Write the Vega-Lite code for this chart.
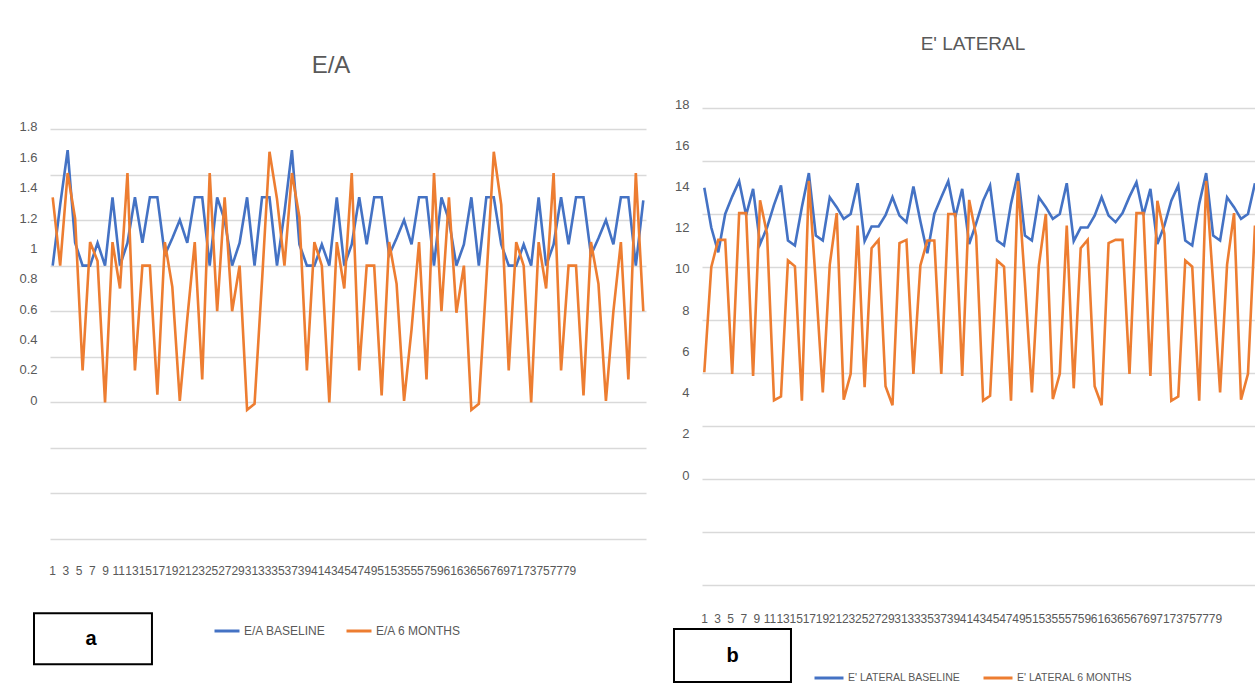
{
  "$schema": "https://vega.github.io/schema/vega-lite/v6.json",
  "background": "white",
  "padding": {"left": 18, "top": 35, "right": 0, "bottom": 0},
  "autosize": {"type": "pad"},
  "bounds": "flush",
  "spacing": 56,
  "config": {"view": {"stroke": null}, "font": "Liberation Sans"},
  "datasets": {
    "ea": [
      {"i":1,"b":0.9,"m":1.35},{"i":2,"b":1.3,"m":0.9},{"i":3,"b":1.66,"m":1.51},{"i":4,"b":1.05,"m":1.21},{"i":5,"b":0.9,"m":0.21},
      {"i":6,"b":0.9,"m":1.055},{"i":7,"b":1.05,"m":0.93},{"i":8,"b":0.9,"m":0.0},{"i":9,"b":1.35,"m":1.055},{"i":10,"b":0.9,"m":0.75},
      {"i":11,"b":1.05,"m":1.51},{"i":12,"b":1.35,"m":0.21},{"i":13,"b":1.05,"m":0.9},{"i":14,"b":1.35,"m":0.9},{"i":15,"b":1.35,"m":0.05},
      {"i":16,"b":0.97,"m":1.055},{"i":17,"b":1.08,"m":0.76},{"i":18,"b":1.2,"m":0.01},{"i":19,"b":1.05,"m":0.55},{"i":20,"b":1.35,"m":1.055},
      {"i":21,"b":1.35,"m":0.15},{"i":22,"b":0.9,"m":1.51},{"i":23,"b":1.35,"m":0.6},{"i":24,"b":1.2,"m":1.35},{"i":25,"b":0.9,"m":0.6},
      {"i":26,"b":1.05,"m":0.9},{"i":27,"b":1.35,"m":-0.05},{"i":28,"b":0.9,"m":-0.01},{"i":29,"b":1.35,"m":0.8},{"i":30,"b":1.35,"m":1.65},
      {"i":31,"b":0.9,"m":1.34},{"i":32,"b":1.25,"m":0.9},{"i":33,"b":1.66,"m":1.51},{"i":34,"b":1.04,"m":1.22},{"i":35,"b":0.9,"m":0.21},
      {"i":36,"b":0.9,"m":1.055},{"i":37,"b":1.04,"m":0.9},{"i":38,"b":0.9,"m":0.0},{"i":39,"b":1.35,"m":1.055},{"i":40,"b":0.9,"m":0.75},
      {"i":41,"b":1.04,"m":1.51},{"i":42,"b":1.35,"m":0.21},{"i":43,"b":1.04,"m":0.9},{"i":44,"b":1.35,"m":0.9},{"i":45,"b":1.35,"m":0.046},
      {"i":46,"b":0.97,"m":1.055},{"i":47,"b":1.08,"m":0.78},{"i":48,"b":1.2,"m":0.01},{"i":49,"b":1.04,"m":0.48},{"i":50,"b":1.35,"m":1.055},
      {"i":51,"b":1.35,"m":0.15},{"i":52,"b":0.9,"m":1.51},{"i":53,"b":1.35,"m":0.6},{"i":54,"b":1.2,"m":1.35},{"i":55,"b":0.9,"m":0.59},
      {"i":56,"b":1.04,"m":0.9},{"i":57,"b":1.35,"m":-0.05},{"i":58,"b":0.9,"m":-0.01},{"i":59,"b":1.35,"m":0.8},{"i":60,"b":1.35,"m":1.65},
      {"i":61,"b":1.04,"m":1.3},{"i":62,"b":0.9,"m":0.21},{"i":63,"b":0.9,"m":1.055},{"i":64,"b":1.04,"m":0.9},{"i":65,"b":0.9,"m":0.0},
      {"i":66,"b":1.35,"m":1.055},{"i":67,"b":0.9,"m":0.75},{"i":68,"b":1.04,"m":1.51},{"i":69,"b":1.35,"m":0.21},{"i":70,"b":1.04,"m":0.9},
      {"i":71,"b":1.35,"m":0.9},{"i":72,"b":1.35,"m":0.046},{"i":73,"b":0.97,"m":1.055},{"i":74,"b":1.08,"m":0.78},{"i":75,"b":1.2,"m":0.01},
      {"i":76,"b":1.04,"m":0.6},{"i":77,"b":1.35,"m":1.055},{"i":78,"b":1.35,"m":0.15},{"i":79,"b":0.9,"m":1.51},{"i":80,"b":1.33,"m":0.6}
    ],
    "lat": [
      {"i":1,"b":14.13,"m":5.18},{"i":2,"b":12.2,"m":10.28},{"i":3,"b":11.0,"m":11.6},{"i":4,"b":12.86,"m":11.6},{"i":5,"b":13.7,"m":5.1},
      {"i":6,"b":14.45,"m":12.9},{"i":7,"b":12.8,"m":12.9},{"i":8,"b":14.08,"m":5.0},{"i":9,"b":11.4,"m":13.52},{"i":10,"b":12.2,"m":11.9},
      {"i":11,"b":13.3,"m":3.82},{"i":12,"b":14.24,"m":4.0},{"i":13,"b":11.57,"m":10.6},{"i":14,"b":11.33,"m":10.32},{"i":15,"b":13.2,"m":3.8},
      {"i":16,"b":14.84,"m":14.46},{"i":17,"b":11.81,"m":9.5},{"i":18,"b":11.57,"m":4.2},{"i":19,"b":13.67,"m":10.4},{"i":20,"b":13.19,"m":12.9},
      {"i":21,"b":12.62,"m":3.85},{"i":22,"b":12.86,"m":5.1},{"i":23,"b":14.35,"m":12.3},{"i":24,"b":11.54,"m":4.45},{"i":25,"b":12.25,"m":11.2},
      {"i":26,"b":12.25,"m":11.6},{"i":27,"b":12.8,"m":4.5},{"i":28,"b":13.67,"m":3.58},{"i":29,"b":12.78,"m":11.45},{"i":30,"b":12.46,"m":11.6},
      {"i":31,"b":14.19,"m":5.1},{"i":32,"b":12.5,"m":10.36},{"i":33,"b":10.95,"m":11.57},{"i":34,"b":12.86,"m":11.57},{"i":35,"b":13.67,"m":5.1},
      {"i":36,"b":14.45,"m":12.86},{"i":37,"b":12.7,"m":12.86},{"i":38,"b":14.08,"m":5.0},{"i":39,"b":11.4,"m":13.54},{"i":40,"b":12.4,"m":11.8},
      {"i":41,"b":13.5,"m":3.8},{"i":42,"b":14.24,"m":4.04},{"i":43,"b":11.57,"m":10.6},{"i":44,"b":11.33,"m":10.3},{"i":45,"b":13.35,"m":3.8},
      {"i":46,"b":14.84,"m":14.45},{"i":47,"b":11.81,"m":9.5},{"i":48,"b":11.57,"m":4.2},{"i":49,"b":13.67,"m":10.36},{"i":50,"b":13.19,"m":12.86},
      {"i":51,"b":12.62,"m":3.88},{"i":52,"b":12.86,"m":5.1},{"i":53,"b":14.35,"m":12.3},{"i":54,"b":11.54,"m":4.4},{"i":55,"b":12.2,"m":11.2},
      {"i":56,"b":12.2,"m":11.6},{"i":57,"b":12.78,"m":4.5},{"i":58,"b":13.67,"m":3.58},{"i":59,"b":12.78,"m":11.45},{"i":60,"b":12.46,"m":11.6},
      {"i":61,"b":12.9,"m":11.6},{"i":62,"b":13.7,"m":5.1},{"i":63,"b":14.4,"m":12.9},{"i":64,"b":12.8,"m":12.9},{"i":65,"b":14.08,"m":5.0},
      {"i":66,"b":11.4,"m":13.5},{"i":67,"b":12.3,"m":11.9},{"i":68,"b":13.5,"m":3.8},{"i":69,"b":14.24,"m":4.0},{"i":70,"b":11.57,"m":10.6},
      {"i":71,"b":11.33,"m":10.3},{"i":72,"b":13.35,"m":3.8},{"i":73,"b":14.84,"m":14.46},{"i":74,"b":11.81,"m":9.5},{"i":75,"b":11.57,"m":4.2},
      {"i":76,"b":13.67,"m":10.4},{"i":77,"b":13.19,"m":12.9},{"i":78,"b":12.62,"m":3.85},{"i":79,"b":12.86,"m":5.1},{"i":80,"b":14.35,"m":12.3}
    ]
  },
  "resolve": {"scale": {"color": "independent"}, "legend": {"color": "independent"}},
  "hconcat": [
    {
      "width": 596,
      "height": 431,
      "title": {"text": "E/A", "fontSize": 24, "color": "#595959", "fontWeight": "normal", "offset": 30, "dx": -17},
      "resolve": {"scale": {"x": "independent"}, "axis": {"x": "independent", "y": "independent"}},
      "layer": [
        {
          "data": {"name": "ea"},
          "transform": [{"fold": ["b", "m"], "as": ["s", "v"]}],
          "mark": {"type": "line", "strokeWidth": 2.6},
          "encoding": {
            "x": {"field": "i", "type": "quantitative", "scale": {"domain": [0.639, 80.36], "nice": false, "zero": false}, "axis": null},
            "y": {"field": "v", "type": "quantitative", "scale": {"domain": [-0.9, 1.938], "nice": false, "zero": false},
                  "axis": {"values": [0, 0.2, 0.4, 0.6, 0.8, 1, 1.2, 1.4, 1.6, 1.8], "format": ".1~f", "grid": false, "ticks": false, "domain": false, "title": null,
                           "labelFontSize": 13, "labelColor": "#595959", "labelPadding": 13, "labelOffset": -2, "labelOverlap": false, "labelBound": false, "labelFlush": false}},
            "color": {"field": "s", "type": "nominal", "scale": {"domain": ["b", "m"], "range": ["#4472C4", "#ED7D31"]},
                      "legend": {"orient": "none", "legendX": 163, "legendY": 509, "direction": "horizontal", "title": null, "symbolType": "stroke",
                                 "symbolStrokeWidth": 3, "symbolSize": 625, "labelFontSize": 12, "labelColor": "#595959", "labelOffset": 3, "columnPadding": 14, "padding": 0,
                                 "labelExpr": "datum.label == 'b' ? 'E/A BASELINE' : 'E/A 6 MONTHS'"}}
          }
        },
        {
          "data": {"values": [{"box": "a"}]},
          "mark": {"type": "rect", "fill": null, "stroke": "black", "strokeWidth": 2},
          "encoding": {
            "x": {"datum": -1.713, "type": "quantitative", "scale": {"domain": [0.7, 90.6], "nice": false, "zero": false},
                  "axis": {"values": [1,3,5,7,9,11,13,15,17,19,21,23,25,27,29,31,33,35,37,39,41,43,45,47,49,51,53,55,57,59,61,63,65,67,69,71,73,75,77,79],
                           "orient": "bottom", "grid": false, "ticks": false, "domain": false, "title": null, "labelFontSize": 12, "labelColor": "#595959",
                           "labelPadding": 26, "labelOverlap": false, "labelBound": false, "labelFlush": false, "labelAngle": 0}},
            "x2": {"datum": 16.08},
            "y": {"datum": -1.389, "type": "quantitative", "scale": {"domain": [-0.9, 1.938], "nice": false, "zero": false},
                  "axis": {"orient": "right", "values": [-0.9, -0.6, -0.3, 0, 0.3, 0.6, 0.9, 1.2, 1.5, 1.8], "grid": true, "gridColor": "#d9d9d9", "gridWidth": 1.5,
                           "labels": false, "ticks": false, "domain": false, "title": null}},
            "y2": {"datum": -1.725}
          }
        },
        {
          "data": {"values": [{"box": "a"}]},
          "mark": {"type": "text", "fontSize": 20, "fontWeight": "bold", "color": "black", "baseline": "middle", "align": "center"},
          "encoding": {
            "text": {"field": "box"},
            "x": {"datum": 6.88, "type": "quantitative", "scale": {"domain": [0.7, 90.6], "nice": false, "zero": false}, "axis": null},
            "y": {"datum": -1.56, "type": "quantitative", "scale": {"domain": [-0.9, 1.938], "nice": false, "zero": false}, "axis": null}
          }
        }
      ]
    },
    {
      "width": 554,
      "height": 477,
      "title": {"text": "E' LATERAL", "fontSize": 19, "color": "#595959", "fontWeight": "normal", "offset": 44, "dx": -6},
      "resolve": {"scale": {"x": "independent"}, "axis": {"x": "independent", "y": "independent"}},
      "layer": [
        {
          "data": {"name": "lat"},
          "transform": [{"fold": ["b", "m"], "as": ["s", "v"]}],
          "mark": {"type": "line", "strokeWidth": 2.6},
          "encoding": {
            "x": {"field": "i", "type": "quantitative", "scale": {"domain": [0.67, 80.15], "nice": false, "zero": false}, "axis": null},
            "y": {"field": "v", "type": "quantitative", "scale": {"domain": [-5.142857, 18], "nice": false, "zero": false},
                  "axis": {"values": [0, 2, 4, 6, 8, 10, 12, 14, 16, 18], "grid": false, "ticks": false, "domain": false, "title": null,
                           "labelFontSize": 13, "labelColor": "#595959", "labelPadding": 13, "labelOffset": -4, "labelOverlap": false, "labelBound": false, "labelFlush": false}},
            "color": {"field": "s", "type": "nominal", "scale": {"domain": ["b", "m"], "range": ["#4472C4", "#ED7D31"]},
                      "legend": {"orient": "none", "legendX": 111, "legendY": 554, "direction": "horizontal", "title": null, "symbolType": "stroke",
                                 "symbolStrokeWidth": 3, "symbolSize": 841, "labelFontSize": 10.5, "labelColor": "#595959", "labelOffset": 3, "columnPadding": 16, "padding": 0,
                                 "labelExpr": "datum.label == 'b' ? \"E' LATERAL BASELINE\" : \"E' LATERAL 6 MONTHS\""}}
          }
        },
        {
          "data": {"values": [{"box": "b"}]},
          "mark": {"type": "rect", "fill": null, "stroke": "black", "strokeWidth": 2},
          "encoding": {
            "x": {"datum": -3.58, "type": "quantitative", "scale": {"domain": [0.695, 85.27], "nice": false, "zero": false},
                  "axis": {"values": [1,3,5,7,9,11,13,15,17,19,21,23,25,27,29,31,33,35,37,39,41,43,45,47,49,51,53,55,57,59,61,63,65,67,69,71,73,75,77,79],
                           "orient": "bottom", "grid": false, "ticks": false, "domain": false, "title": null, "labelFontSize": 12, "labelColor": "#595959",
                           "labelPadding": 28, "labelOverlap": false, "labelBound": false, "labelFlush": false, "labelAngle": 0}},
            "x2": {"datum": 14.28},
            "y": {"datum": -7.28, "type": "quantitative", "scale": {"domain": [-5.142857, 18], "nice": false, "zero": false},
                  "axis": {"orient": "right", "values": [-5.142857, -2.571429, 0, 2.571429, 5.142857, 7.714286, 10.285714, 12.857143, 15.428571, 18], "grid": true, "gridColor": "#d9d9d9", "gridWidth": 1.5,
                           "labels": false, "ticks": false, "domain": false, "title": null}},
            "y2": {"datum": -9.85}
          }
        },
        {
          "data": {"values": [{"box": "b"}]},
          "mark": {"type": "text", "fontSize": 20, "fontWeight": "bold", "color": "black", "baseline": "middle", "align": "center"},
          "encoding": {
            "text": {"field": "box"},
            "x": {"datum": 5.35, "type": "quantitative", "scale": {"domain": [0.695, 85.27], "nice": false, "zero": false}, "axis": null},
            "y": {"datum": -8.59, "type": "quantitative", "scale": {"domain": [-5.142857, 18], "nice": false, "zero": false}, "axis": null}
          }
        }
      ]
    }
  ]
}
